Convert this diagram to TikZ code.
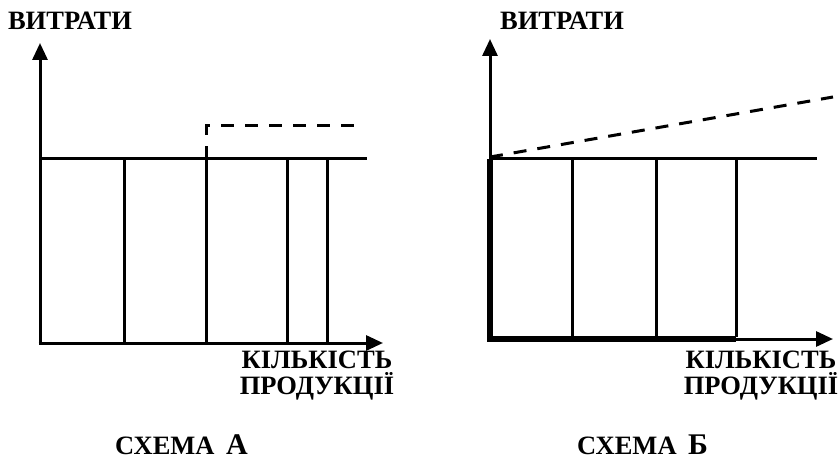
\documentclass[tikz,border=0pt]{standalone}
\usepackage{fontspec}
\setmainfont{Liberation Serif}
\usetikzlibrary{arrows.meta,positioning}

\begin{document}
\begin{tikzpicture}[x=1pt, y=-1pt,
    axis/.style={line width=3pt, -{Triangle[length=17pt,width=15pt]}},
    cost/.style={line width=3pt},
    heavy/.style={line width=6pt, line join=miter},
    extra/.style={line width=3pt, dash pattern=on 13pt off 11pt},
    lbl/.style={font=\bfseries\fontsize{26.5}{30}\selectfont, inner sep=0pt, anchor=base},
    big/.style={font=\bfseries\fontsize{30}{34}\selectfont, inner sep=0pt, anchor=base west}]
    \useasboundingbox (0,0) rectangle (840,462);

    % Scheme A: axes
    \coordinate (oA) at (40,343);
    \coordinate (yA) at (40,43);
    \coordinate (xA) at (383,343);
    \draw[axis] ([yshift=1.5pt]oA) -- (yA);
    \draw[axis] ([xshift=-1.5pt]oA) -- (xA);

    % Scheme A: fixed costs and steps
    \draw[cost] (40,159) -- (367,159);
    \foreach \x in {124,206,287,327}
        \draw[cost] (\x,159) -- (\x,342);
    \draw[extra] (206,159) -- (206,126) -- (360,126);

    % Scheme A: labels
    \node[lbl] (costA) at (70,30) {ВИТРАТИ};
    \node[lbl] (qtyA) at (317,368) {КІЛЬКІСТЬ};
    \node[lbl] (prodA) at (317,394) {ПРОДУКЦІЇ};
    \node[lbl, anchor=base west] (capA) at (115,454) {СХЕМА};
    \node[big] (letA) at ([xshift=11pt]capA.base east) {А};

    % Scheme B: axes
    \coordinate (oB) at (490,339);
    \coordinate (yB) at (490,39);
    \coordinate (xB) at (833,339);
    \draw[axis] (490,159) -- (yB);
    \draw[axis] (736,339) -- (xB);
    \draw[heavy] (490,159) -- (oB) -- (736,339);

    % Scheme B: fixed costs and steps
    \draw[cost] (490,159) -- (817,159);
    \foreach \x in {572,656,736}
        \draw[cost] (\x,159) -- (\x,337);
    \draw[extra] (490,157) -- (833,97);

    % Scheme B: labels
    \node[lbl] (costB) at (562,30) {ВИТРАТИ};
    \node[lbl] (qtyB) at (761,368) {КІЛЬКІСТЬ};
    \node[lbl] (prodB) at (761,394) {ПРОДУКЦІЇ};
    \node[lbl, anchor=base west] (capB) at (577,454) {СХЕМА};
    \node[big] (letB) at ([xshift=11pt]capB.base east) {Б};
\end{tikzpicture}
\end{document}
